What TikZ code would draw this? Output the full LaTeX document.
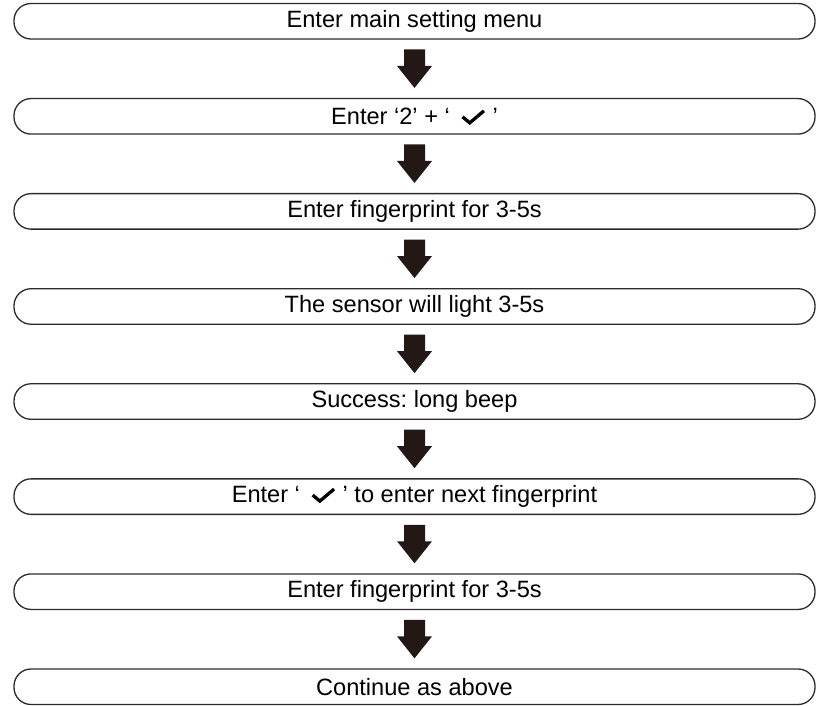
\documentclass[tikz,border=0pt]{standalone}
\usepackage{fontspec}
\setmainfont{Liberation Sans}
\frenchspacing
\usetikzlibrary{calc}
\definecolor{edgegray}{HTML}{2E2A29}
\definecolor{arrowfill}{HTML}{231815}
% heavy check mark, drawn once and reused inside the step texts
\newsavebox{\tickbox}
\sbox{\tickbox}{\tikz[baseline=0pt, x=1pt, y=1pt]\draw[line width=3.3pt, line join=miter, black]
  (0.8,7.6) -- (8,1.6) -- (22.2,13.6);}
\newcommand{\tick}{\hspace{11pt}\usebox{\tickbox}\hspace{7pt}}
\newcommand{\blockarrow}[2]{%
  \fill[arrowfill]
    ($(#1.south)+(-10.5,9.75)$) -- ($(#1.south)+(10.5,9.75)$)
    -- ($(#2.north)+(10.5,-32)$) -- ($(#2.north)+(17.5,-32)$)
    -- ($(#2.north)+(0,-10)$)
    -- ($(#2.north)+(-17.5,-32)$) -- ($(#2.north)+(-10.5,-32)$) -- cycle;}
\begin{document}
\begin{tikzpicture}[x=1pt,y=-1pt,
  stepbox/.style={draw=edgegray, line width=1.3pt, rounded corners=17pt,
    minimum width=801pt, minimum height=35.5pt, inner sep=0pt,
    font=\fontsize{23.6}{28}\selectfont, text=black}]
  \useasboundingbox (0,0) rectangle (820,705);
  \node[stepbox] (s1) at (414.5, 21.25) {Enter main setting menu};
  \node[stepbox] (s2) at (414.5, 116.32) {Enter ‘2’ + ‘\tick’};
  \node[stepbox] (s3) at (414.5, 211.39) {Enter fingerprint for 3-5s};
  \node[stepbox] (s4) at (414.5, 306.46) {The sensor will light 3-5s};
  \node[stepbox] (s5) at (414.5, 401.53) {Success: long beep};
  \node[stepbox] (s6) at (414.5, 496.60) {Enter ‘\tick’ to enter next fingerprint};
  \node[stepbox] (s7) at (414.5, 591.67) {Enter fingerprint for 3-5s};
  \node[stepbox] (s8) at (414.5, 686.75) {Continue as above};
  \blockarrow{s1}{s2}
  \blockarrow{s2}{s3}
  \blockarrow{s3}{s4}
  \blockarrow{s4}{s5}
  \blockarrow{s5}{s6}
  \blockarrow{s6}{s7}
  \blockarrow{s7}{s8}
\end{tikzpicture}
\end{document}
